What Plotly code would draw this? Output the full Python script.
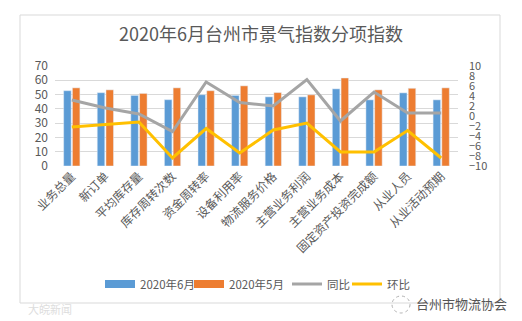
import plotly.graph_objects as go

categories = ["业务总量", "新订单", "平均库存量", "库存周转次数", "资金周转率", "设备利用率",
              "物流服务价格", "主营业务利润", "主营业务成本", "固定资产投资完成额", "从业人员", "从业活动预期"]
june = [52.7, 51.3, 49.4, 46.4, 49.9, 49.4, 48.4, 48.4, 54.0, 46.3, 51.2, 46.3]
may = [54.7, 53.3, 50.8, 54.7, 52.7, 56.1, 51.4, 49.8, 61.6, 53.3, 54.4, 54.7]
yoy = [3.2, 1.6, 0.4, -3.1, 6.8, 2.7, 2.0, 7.3, -1.0, 4.8, 0.6, 0.6]
mom = [-2.2, -1.7, -1.2, -8.4, -2.5, -7.4, -2.8, -1.4, -7.2, -7.2, -2.9, -8.4]
legend_names = ["2020年6月", "2020年5月", "同比", "环比"]

BLUE, ORANGE, GRAY, YELLOW = "#5b9bd5", "#ed7d31", "#a5a5a5", "#ffc000"
TXT = "#595959"
FONT = "Noto Sans CJK SC"

fig = go.Figure()
fig.add_trace(go.Bar(x=categories, y=june, marker_color=BLUE, showlegend=False))
fig.add_trace(go.Bar(x=categories, y=may, marker_color=ORANGE, showlegend=False))
fig.add_trace(go.Scatter(x=categories, y=yoy, mode="lines", line=dict(color=GRAY, width=3),
                         yaxis="y2", showlegend=False))
fig.add_trace(go.Scatter(x=categories, y=mom, mode="lines", line=dict(color=YELLOW, width=3),
                         yaxis="y2", showlegend=False))

# legend entries, each in its own legend box for precise placement
leg_ids = ["legend", "legend2", "legend3", "legend4"]
leg_cols = [BLUE, ORANGE, GRAY, YELLOW]
leg_w = [8, 8, 3, 3]
leg_x = [100, 189, 287, 347]
for name, col, w, lid in zip(legend_names, leg_cols, leg_w, leg_ids):
    fig.add_trace(go.Scatter(x=[None], y=[None], mode="lines", name=name, legend=lid,
                             line=dict(color=col, width=w), showlegend=True))

fig.update_layout(
    width=522, height=321,
    margin=dict(l=55, r=64, t=66, b=155),
    paper_bgcolor="white", plot_bgcolor="white",
    font=dict(family=FONT, color=TXT, size=12),
    title=dict(text="2020年6月台州市景气指数分项指数", x=0.5, xanchor="center",
               y=1 - 35 / 321, yanchor="middle", yref="container",
               font=dict(size=18, color=TXT, family=FONT)),
    barmode="group", bargap=0.48, bargroupgap=0.14,
    xaxis=dict(tickangle=-45, showgrid=False, showline=False, ticks="",
               tickfont=dict(size=12, color=TXT)),
    yaxis=dict(range=[0, 70], dtick=10, gridcolor="#d9d9d9", gridwidth=1, zeroline=False,
               showline=False, ticks="", ticklabelstandoff=6, tickfont=dict(size=12, color=TXT)),
    yaxis2=dict(range=[-10, 10], dtick=2, overlaying="y", side="right", showgrid=False,
                zeroline=False, showline=False, ticks="", ticklabelstandoff=10,
                tickfont=dict(size=11, color=TXT)),
    showlegend=True,
)
for lid, lx in zip(leg_ids, leg_x):
    fig.update_layout({lid: dict(orientation="h", x=lx / 522, xanchor="left", xref="container",
                                 y=1 - 284 / 321, yanchor="middle", yref="container",
                                 font=dict(size=11.5, color=TXT), itemwidth=30,
                                 bgcolor="rgba(0,0,0,0)")})

W, H = 403.0, 100.0
def px(x):
    return (x - 55) / W
def py(y):
    return (166 - y) / H

fig.add_shape(type="rect", xref="paper", yref="paper", x0=px(20), x1=px(500), y0=py(303), y1=py(15),
              line=dict(color="#d9d9d9", width=1), fillcolor="rgba(0,0,0,0)", layer="below")
fig.add_shape(type="circle", xref="paper", yref="paper", x0=px(392), x1=px(410), y0=py(313), y1=py(296),
              line=dict(color="#b0b0b0", width=1, dash="dot"))
fig.add_annotation(text="台州市物流协会", xref="paper", yref="paper", x=px(414), y=py(303),
                   xanchor="left", yanchor="middle", showarrow=False,
                   font=dict(size=13, color="#555555", family=FONT))
fig.add_annotation(text="大皖新闻", xref="paper", yref="paper", x=px(26), y=py(309),
                   xanchor="left", yanchor="middle", showarrow=False,
                   font=dict(size=11, color="#dddddd", family=FONT))

fig.write_html("out.html")
